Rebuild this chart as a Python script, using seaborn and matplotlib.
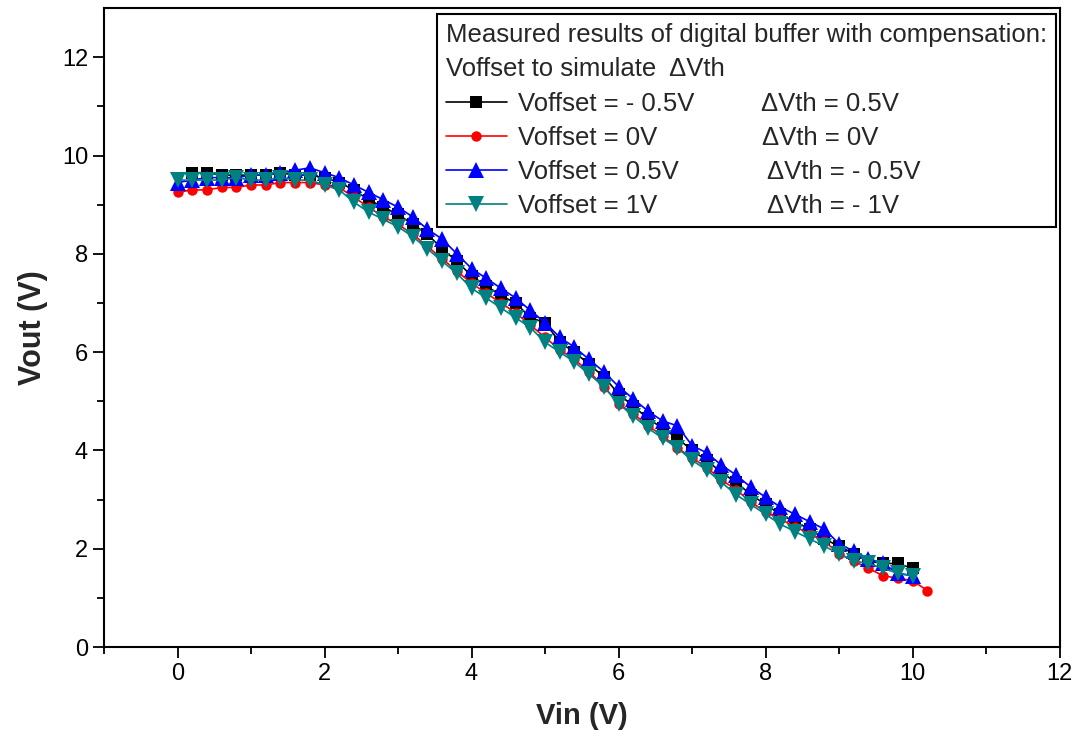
import numpy as np
import pandas as pd
import matplotlib
matplotlib.use('Agg')
import matplotlib.pyplot as plt
from matplotlib import font_manager
import seaborn as sns

# Vin sweep (V)
vin = [0.0, 0.2, 0.4, 0.6, 0.8, 1.0, 1.2, 1.4, 1.6, 1.8,
       2.0, 2.2, 2.4, 2.6, 2.8, 3.0, 3.2, 3.4, 3.6, 3.8,
       4.0, 4.2, 4.4, 4.6, 4.8, 5.0, 5.2, 5.4, 5.6, 5.8,
       6.0, 6.2, 6.4, 6.6, 6.8, 7.0, 7.2, 7.4, 7.6, 7.8,
       8.0, 8.2, 8.4, 8.6, 8.8, 9.0, 9.2, 9.4, 9.6, 9.8,
       10.0, 10.2]

nan = np.nan
# Vout (V) for each offset
vout_m05 = [nan, 9.65, 9.65, 9.6, 9.6, 9.6, 9.6, 9.65, 9.6, 9.6,
            9.55, 9.45, 9.3, 9.1, 8.95, 8.8, 8.6, 8.4, 8.1, 7.85,
            7.55, 7.35, 7.15, 7.0, 6.7, 6.6, 6.2, 6.0, 5.75, 5.5,
            5.15, 4.9, 4.65, 4.45, 4.25, 4.0, 3.8, 3.55, 3.35, 3.1,
            2.9, 2.7, 2.55, 2.4, 2.2, 2.05, 1.9, 1.75, 1.7, 1.7,
            1.6, nan]
vout_0 = [9.25, 9.3, 9.3, 9.35, 9.35, 9.4, 9.4, 9.45, 9.45, 9.45,
          9.4, 9.35, 9.15, 8.95, 8.75, 8.6, 8.4, 8.15, 7.9, 7.65,
          7.4, 7.2, 7.0, 6.8, 6.55, 6.3, 6.05, 5.85, 5.6, 5.3,
          4.95, 4.75, 4.5, 4.3, 4.05, 3.85, 3.65, 3.4, 3.2, 2.95,
          2.75, 2.6, 2.45, 2.3, 2.15, 1.9, 1.75, 1.6, 1.45, 1.4,
          1.35, 1.15]
vout_05 = [9.45, 9.5, 9.55, 9.55, 9.55, 9.6, 9.6, 9.65, 9.7, 9.75,
           9.65, 9.55, 9.4, 9.25, 9.1, 8.95, 8.75, 8.5, 8.3, 8.0,
           7.7, 7.5, 7.3, 7.1, 6.85, 6.6, 6.3, 6.1, 5.85, 5.6,
           5.3, 5.05, 4.8, 4.6, 4.5, 4.1, 3.95, 3.7, 3.5, 3.25,
           3.05, 2.85, 2.7, 2.55, 2.4, 2.1, 1.95, 1.8, 1.7, 1.5,
           1.45, nan]
vout_1 = [9.5, 9.5, 9.5, 9.5, 9.55, 9.5, 9.5, 9.55, 9.5, 9.5,
          9.4, 9.3, 9.05, 8.85, 8.7, 8.55, 8.35, 8.1, 7.85, 7.6,
          7.3, 7.1, 6.9, 6.7, 6.5, 6.2, 6.0, 5.8, 5.55, 5.3,
          4.95, 4.7, 4.45, 4.25, 4.05, 3.8, 3.6, 3.35, 3.1, 2.9,
          2.7, 2.5, 2.35, 2.2, 2.05, 1.9, 1.75, 1.7, 1.6, 1.5,
          1.45, nan]

series_labels = ['Voffset = - 0.5V', 'Voffset = 0V', 'Voffset = 0.5V', 'Voffset = 1V']
dvth_labels = ['\u0394Vth = 0.5V', '\u0394Vth = 0V', '\u0394Vth = - 0.5V', '\u0394Vth = - 1V']
dvth_x = [0.688, 0.689, 0.694, 0.694]
legend_title = 'Measured results of digital buffer with compensation:\nVoffset to simulate  \u0394Vth'

sns.set_style('ticks')
available = {f.name for f in font_manager.fontManager.ttflist}
fam = [f for f in ['Liberation Sans', 'DejaVu Sans'] if f in available]
plt.rcParams['font.family'] = fam

fig = plt.figure(figsize=(10.79, 7.45), dpi=100)
ax = fig.add_axes([0.0964, 0.1315, 0.8856, 0.8577])

styles = [('black', 's', 8), ('red', 'o', 7.5), ('blue', '^', 11), ('#008080', 'v', 11)]
for vals, lab, (col, mk, ms) in zip([vout_m05, vout_0, vout_05, vout_1], series_labels, styles):
    df = pd.DataFrame({'Vin': vin, 'Vout': vals}).dropna()
    sns.lineplot(data=df, x='Vin', y='Vout', color=col, marker=mk, markersize=ms,
                 markeredgewidth=0, linewidth=1.2, label=lab, ax=ax)

ax.set_xlim(-1, 12)
ax.set_ylim(0, 13)
ax.set_xticks([0, 2, 4, 6, 8, 10, 12])
ax.set_yticks([0, 2, 4, 6, 8, 10, 12])
ax.set_xticks(range(-1, 13), minor=True)
ax.set_yticks(range(0, 13), minor=True)
ax.tick_params(which='major', direction='out', length=8, width=1.3, labelsize=17,
               colors='black')
ax.tick_params(which='minor', direction='out', length=5, width=1.3, colors='black')
for sp in ax.spines.values():
    sp.set_linewidth(1.5)
    sp.set_color('black')
    sp.set_visible(True)

ax.set_xlabel('Vin (V)', fontsize=21, fontweight='bold', labelpad=12)
ax.set_ylabel('Vout (V)', fontsize=22, fontweight='bold', labelpad=10)

handles, labels = ax.get_legend_handles_labels()
leg = ax.legend(handles, labels, title=legend_title, loc='upper right',
                bbox_to_anchor=(0.996, 0.991), fontsize=18.5, title_fontsize=18.5,
                frameon=True, fancybox=False, edgecolor='black', framealpha=1,
                handlelength=2.4, handletextpad=0.4, labelspacing=0.4,
                borderpad=0.35, borderaxespad=0, alignment='left', numpoints=1)
leg.get_frame().set_linewidth(1.5)
leg.get_title().set_linespacing(1.55)
leg.set_zorder(5)

fig.canvas.draw()
inv = ax.transAxes.inverted()
for txt, dl, xp in zip(leg.get_texts(), dvth_labels, dvth_x):
    bb = txt.get_window_extent()
    _, yc = inv.transform((bb.x0, (bb.y0 + bb.y1) / 2))
    ax.text(xp, yc, dl, transform=ax.transAxes, fontsize=18.5, va='center',
            ha='left', zorder=10)

fig.savefig('out.png', dpi=100)
